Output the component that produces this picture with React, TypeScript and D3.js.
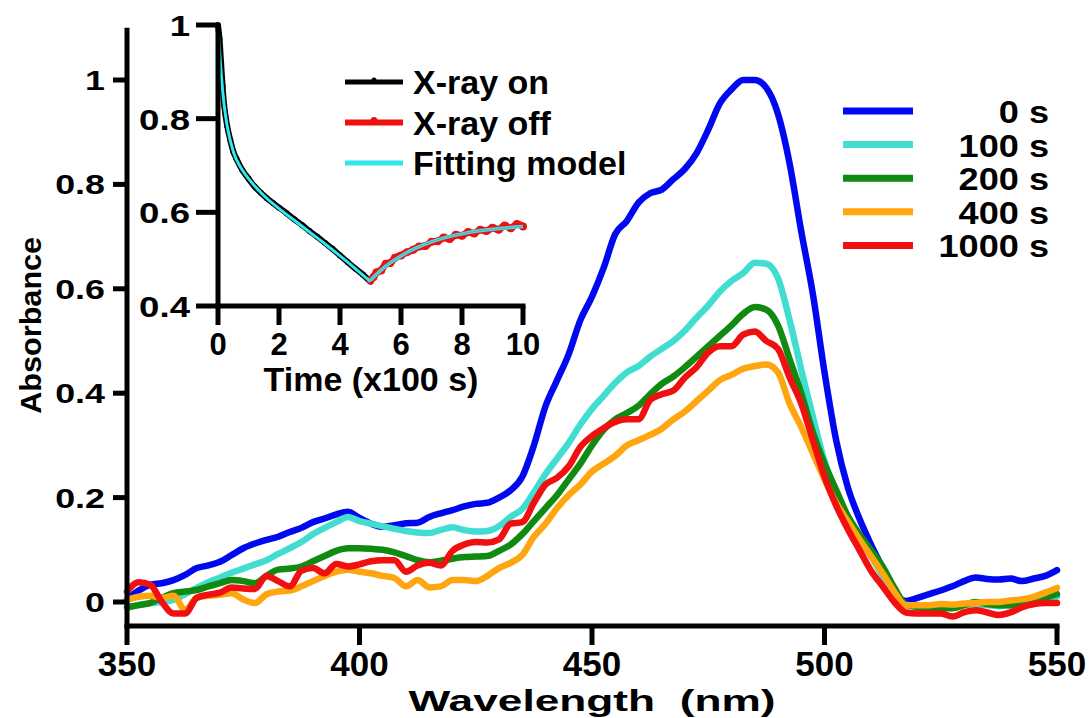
import React from 'react';
import * as d3 from 'd3';

const wavelengths = [350, 352.5, 355, 357.5, 360, 362.5, 365, 367.5, 370, 372.5, 375, 377.5, 380, 382.5, 385, 387.5, 390, 392.5, 395, 397.5, 400, 402.5, 405, 407.5, 410, 412.5, 415, 417.5, 420, 422.5, 425, 427.5, 430, 432.5, 435, 437.5, 440, 442.5, 445, 447.5, 450, 452.5, 455, 457.5, 460, 462.5, 465, 467.5, 470, 472.5, 475, 477.5, 480, 482.5, 485, 487.5, 490, 492.5, 495, 497.5, 500, 502.5, 505, 507.5, 510, 512.5, 515, 517.5, 520, 522.5, 525, 527.5, 530, 532.5, 535, 537.5, 540, 542.5, 545, 547.5, 550];

const abs0s = [0.005, 0.022, 0.033, 0.036, 0.042, 0.052, 0.065, 0.07, 0.077, 0.09, 0.103, 0.112, 0.119, 0.125, 0.134, 0.142, 0.153, 0.16, 0.168, 0.173, 0.161, 0.15, 0.144, 0.147, 0.151, 0.152, 0.163, 0.17, 0.176, 0.183, 0.188, 0.19, 0.2, 0.214, 0.24, 0.3, 0.375, 0.425, 0.475, 0.54, 0.585, 0.64, 0.705, 0.73, 0.765, 0.783, 0.79, 0.81, 0.83, 0.86, 0.905, 0.955, 0.982, 1.0, 1.0, 0.985, 0.935, 0.84, 0.71, 0.59, 0.44, 0.31, 0.22, 0.16, 0.11, 0.065, 0.02, 0.002, 0.008, 0.015, 0.022, 0.03, 0.04, 0.047, 0.044, 0.043, 0.045, 0.04, 0.045, 0.05, 0.061];

const abs100s = [-0.011, -0.006, -0.002, 0.0, 0.004, 0.015, 0.027, 0.038, 0.047, 0.056, 0.064, 0.072, 0.08, 0.092, 0.103, 0.115, 0.13, 0.142, 0.153, 0.163, 0.155, 0.15, 0.145, 0.14, 0.136, 0.133, 0.132, 0.138, 0.143, 0.138, 0.135, 0.136, 0.145, 0.163, 0.178, 0.21, 0.245, 0.275, 0.305, 0.34, 0.37, 0.395, 0.42, 0.44, 0.452, 0.47, 0.485, 0.5, 0.52, 0.545, 0.568, 0.595, 0.615, 0.63, 0.65, 0.648, 0.62, 0.54, 0.445, 0.355, 0.27, 0.21, 0.16, 0.125, 0.088, 0.05, 0.012, -0.005, -0.008, -0.009, -0.008, -0.009, -0.006, -0.004, -0.006, -0.008, -0.006, -0.006, -0.004, 0.002, 0.01];

const abs200s = [-0.01, -0.006, -0.002, 0.008, 0.017, 0.02, 0.023, 0.03, 0.036, 0.042, 0.04, 0.036, 0.05, 0.062, 0.064, 0.068, 0.078, 0.088, 0.098, 0.103, 0.103, 0.102, 0.1, 0.095, 0.088, 0.08, 0.076, 0.079, 0.083, 0.086, 0.087, 0.088, 0.098, 0.11, 0.13, 0.155, 0.18, 0.205, 0.235, 0.265, 0.3, 0.33, 0.35, 0.362, 0.376, 0.398, 0.418, 0.432, 0.45, 0.47, 0.49, 0.51, 0.53, 0.552, 0.565, 0.56, 0.53, 0.465, 0.4, 0.325, 0.265, 0.215, 0.165, 0.13, 0.1, 0.068, 0.028, -0.005, -0.01, -0.012, -0.012, -0.012, -0.006, 0.0, -0.004, -0.006, -0.006, -0.004, 0.0, 0.008, 0.015];

const abs400s = [0.004, 0.01, 0.012, 0.008, 0.012, -0.015, 0.008, 0.012, 0.014, 0.017, 0.005, -0.002, 0.015, 0.02, 0.022, 0.03, 0.04, 0.05, 0.058, 0.062, 0.058, 0.055, 0.05, 0.046, 0.03, 0.042, 0.028, 0.03, 0.042, 0.042, 0.04, 0.05, 0.065, 0.075, 0.09, 0.125, 0.15, 0.18, 0.205, 0.225, 0.25, 0.265, 0.28, 0.3, 0.31, 0.32, 0.332, 0.35, 0.365, 0.385, 0.405, 0.425, 0.435, 0.447, 0.452, 0.455, 0.44, 0.38, 0.335, 0.285, 0.235, 0.19, 0.155, 0.12, 0.088, 0.055, 0.02, -0.006, -0.006, -0.006, -0.004, -0.005, -0.003, -0.002, 0.0, 0.0, 0.003, 0.005, 0.01, 0.018, 0.027];

const abs1000s = [0.02, 0.038, 0.033, 0.0, -0.022, -0.022, 0.008, 0.014, 0.018, 0.028, 0.026, 0.025, 0.05, 0.04, 0.03, 0.06, 0.065, 0.055, 0.073, 0.068, 0.072, 0.078, 0.08, 0.08, 0.058, 0.07, 0.075, 0.07, 0.098, 0.11, 0.115, 0.114, 0.12, 0.15, 0.153, 0.19, 0.225, 0.238, 0.26, 0.297, 0.318, 0.333, 0.345, 0.35, 0.35, 0.387, 0.398, 0.405, 0.43, 0.45, 0.478, 0.49, 0.49, 0.512, 0.518, 0.5, 0.485, 0.43, 0.38, 0.31, 0.24, 0.185, 0.14, 0.1, 0.06, 0.03, 0.0, -0.02, -0.022, -0.022, -0.022, -0.028, -0.02, -0.016, -0.02, -0.025, -0.02, -0.01, -0.004, -0.002, -0.002];

const seriesLabels = ['0 s', '100 s', '200 s', '400 s', '1000 s'];
const seriesValues = [abs0s, abs100s, abs200s, abs400s, abs1000s];
const seriesColors = ['#0008f0', '#40ddd0', '#108a10', '#ffa510', '#f01010'];

const xTicks = [350, 400, 450, 500, 550];
const yTicks = [0, 0.2, 0.4, 0.6, 0.8, 1];
const yTickLabels = ['0', '0.2', '0.4', '0.6', '0.8', '1'];

// inset data
const onTime = [0, 0.05, 0.1, 0.15, 0.2, 0.3, 0.4, 0.5, 0.6, 0.8, 1.0, 1.2, 1.4, 1.6, 1.8, 2.0, 2.25, 2.5, 2.75, 3.0, 3.25, 3.5, 3.75, 4.0, 4.25, 4.5, 4.75, 5.0];
const onValue = [1.0, 0.97, 0.92, 0.87, 0.83, 0.785, 0.755, 0.73, 0.715, 0.69, 0.672, 0.655, 0.642, 0.63, 0.62, 0.61, 0.598, 0.585, 0.573, 0.56, 0.548, 0.535, 0.522, 0.508, 0.494, 0.48, 0.467, 0.452];
const offTime = [5.0, 5.1, 5.2, 5.35, 5.5, 5.65, 5.8, 6.0, 6.2, 6.4, 6.6, 6.8, 7.0, 7.2, 7.4, 7.6, 7.8, 8.0, 8.2, 8.4, 8.6, 8.8, 9.0, 9.2, 9.4, 9.6, 9.8, 10.0];
const offValue = [0.455, 0.462, 0.472, 0.476, 0.49, 0.492, 0.503, 0.508, 0.515, 0.52, 0.527, 0.528, 0.537, 0.538, 0.546, 0.543, 0.552, 0.55, 0.558, 0.555, 0.563, 0.56, 0.567, 0.563, 0.572, 0.566, 0.575, 0.57];
const fitOnTime = [0, 0.1, 0.2, 0.3, 0.5, 0.75, 1.0, 1.5, 2.0, 2.5, 3.0, 3.5, 4.0, 4.5, 5.0];
const fitOnValue = [1.0, 0.9, 0.83, 0.785, 0.73, 0.695, 0.672, 0.636, 0.608, 0.583, 0.558, 0.533, 0.507, 0.48, 0.452];
const fitOffTime = [5.0, 5.5, 6.0, 6.5, 7.0, 7.5, 8.0, 8.5, 9.0, 9.5, 10.0];
const fitOffValue = [0.455, 0.485, 0.507, 0.524, 0.537, 0.547, 0.554, 0.56, 0.564, 0.567, 0.57];
const insetXTicks = [0, 2, 4, 6, 8, 10];
const insetYTicks = [0.4, 0.6, 0.8, 1];
const insetYTickLabels = ['0.4', '0.6', '0.8', '1'];
const insetLegend = ['X-ray on', 'X-ray off', 'Fitting model'];
const insetColors = ['#000000', '#f01010', '#30e8f0'];

const FONT = '"Liberation Sans", Arial, Helvetica, sans-serif';

export default function App() {
  const x = d3.scaleLinear().domain([350, 550]).range([127, 1057]);
  const y = d3.scaleLinear().domain([0, 1]).range([602, 80]);
  const ix = d3.scaleLinear().domain([0, 10]).range([218, 523]);
  const iy = d3.scaleLinear().domain([0.4, 1]).range([306, 25]);

  const mainLine = d3
    .line<number>()
    .x((_, i) => x(wavelengths[i]))
    .y((d) => y(d))
    .curve(d3.curveMonotoneX);

  const insetLine = (t: number[], v: number[]) =>
    d3
      .line<number>()
      .x((_, i) => ix(t[i]))
      .y((d) => iy(d))
      .curve(d3.curveMonotoneX)(v) || '';

  const yTop = y(1.1);
  const yBottom = y(-0.046);
  const iyTop = iy(1.0);
  const iyBottom = iy(0.4);

  return (
    <svg
      width={1092}
      height={718}
      style={{ position: 'absolute', left: 0, top: 0, background: '#fff' }}
      fontFamily={FONT}
      fontWeight="bold"
    >
      <rect x={0} y={0} width={1092} height={718} fill="#fff" />
      {/* spectra */}
      {seriesValues.map((vals, i) => (
        <path
          key={seriesLabels[i]}
          d={mainLine(vals) || ''}
          fill="none"
          stroke={seriesColors[i]}
          strokeWidth={6.5}
          strokeLinejoin="round"
          strokeLinecap="round"
        />
      ))}

      {/* main axes */}
      <line x1={x(350)} x2={x(350)} y1={yTop} y2={yBottom + 2.5} stroke="#000" strokeWidth={5} />
      <line x1={x(350) - 2.5} x2={x(550) + 2.5} y1={yBottom} y2={yBottom} stroke="#000" strokeWidth={5} />
      {yTicks.map((t, i) => (
        <g key={'yt' + t}>
          <line x1={x(350) - 14} x2={x(350)} y1={y(t)} y2={y(t)} stroke="#000" strokeWidth={5} />
          <text
            transform={`translate(${x(350) - 22},${y(t) + 10}) scale(1.28,1)`}
            textAnchor="end"
            fontSize={28}
          >
            {yTickLabels[i]}
          </text>
        </g>
      ))}
      {xTicks.map((t) => (
        <g key={'xt' + t}>
          <line x1={x(t)} x2={x(t)} y1={yBottom} y2={yBottom + 19} stroke="#000" strokeWidth={5} />
          <text x={x(t)} y={676} textAnchor="middle" fontSize={35}>
            {t}
          </text>
        </g>
      ))}
      <text
        x={x(450)}
        y={711}
        textAnchor="middle"
        fontSize={30}
        textLength={367}
        lengthAdjust="spacingAndGlyphs"
        style={{ whiteSpace: 'pre' }}
      >
        {'Wavelength  (nm)'}
      </text>
      <text
        transform={`translate(41,${y(0.53)}) rotate(-90)`}
        textAnchor="middle"
        fontSize={30}
        textLength={177}
        lengthAdjust="spacingAndGlyphs"
      >
        Absorbance
      </text>

      {/* main legend */}
      {seriesLabels.map((lab, i) => (
        <g key={'lg' + lab}>
          <line x1={843} x2={913} y1={111 + i * 33.6} y2={111 + i * 33.6} stroke={seriesColors[i]} strokeWidth={7} />
          <text
            transform={`translate(1049,${111 + i * 33.6 + 12}) scale(1.13,1)`}
            textAnchor="end"
            fontSize={32}
          >
            {lab}
          </text>
        </g>
      ))}

      {/* inset */}
      <path d={insetLine(onTime, onValue)} fill="none" stroke="#000" strokeWidth={6} strokeLinejoin="round" />
      {onTime.map((t, i) => (
        <circle key={'on' + i} cx={ix(t)} cy={iy(onValue[i])} r={3} fill="#000" />
      ))}
      <path d={insetLine(offTime, offValue)} fill="none" stroke="#f01010" strokeWidth={7} strokeLinejoin="round" />
      {offTime.map((t, i) => (
        <circle key={'off' + i} cx={ix(t)} cy={iy(offValue[i])} r={4} fill="#f01010" />
      ))}
      <path d={insetLine(fitOnTime, fitOnValue)} fill="none" stroke={insetColors[2]} strokeWidth={3} />
      <path d={insetLine(fitOffTime, fitOffValue)} fill="none" stroke={insetColors[2]} strokeWidth={3.5} />
      <path d={insetLine(fitOffTime, fitOffValue)} fill="none" stroke="#8a9aa0" strokeWidth={1} />

      <line x1={ix(0)} x2={ix(0)} y1={iyTop} y2={iyBottom + 2.5} stroke="#000" strokeWidth={5} />
      <line x1={ix(0) - 2.5} x2={ix(10) + 2.5} y1={iyBottom} y2={iyBottom} stroke="#000" strokeWidth={5} />
      {insetYTicks.map((t, i) => (
        <g key={'iyt' + t}>
          <line x1={ix(0) - 22} x2={ix(0)} y1={iy(t)} y2={iy(t)} stroke="#000" strokeWidth={5} />
          <text
            transform={`translate(${ix(0) - 28},${iy(t) + 11}) scale(1.22,1)`}
            textAnchor="end"
            fontSize={30}
          >
            {insetYTickLabels[i]}
          </text>
        </g>
      ))}
      {insetXTicks.map((t) => (
        <g key={'ixt' + t}>
          <line x1={ix(t)} x2={ix(t)} y1={iyBottom} y2={iyBottom + 19} stroke="#000" strokeWidth={5} />
          <text x={ix(t)} y={355} textAnchor="middle" fontSize={31}>
            {t}
          </text>
        </g>
      ))}
      <text x={371} y={391} textAnchor="middle" fontSize={34}>
        Time (x100 s)
      </text>

      {insetLegend.map((lab, i) => {
        const ly = 82 + i * 40.5;
        return (
          <g key={'il' + lab}>
            <line x1={345} x2={403} y1={ly} y2={ly} stroke={insetColors[i]} strokeWidth={i === 1 ? 6 : 5} />
            {i < 2 && <circle cx={374} cy={ly - 2} r={i === 1 ? 3.5 : 2.5} fill={insetColors[i]} />}
            <text x={413} y={ly + 12} fontSize={34}>
              {lab}
            </text>
          </g>
        );
      })}
    </svg>
  );
}
